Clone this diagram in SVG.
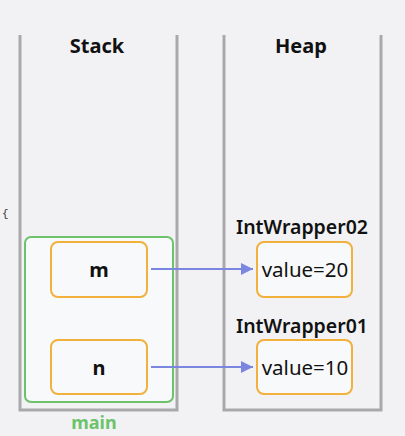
<svg xmlns="http://www.w3.org/2000/svg" width="405" height="436" viewBox="0 0 405 436">
<defs>
<style>
.wall{fill:none;stroke:#a9a9ab;stroke-width:3}
.var{fill:#f8f9fb;stroke:#f2b03c;stroke-width:2}
.t{font-family:"Noto Sans","Liberation Sans",sans-serif;fill:#111;text-anchor:middle}
.conn{stroke:#7b86e0;stroke-width:2;fill:none}
</style>
<marker id="ah" viewBox="0 0 10 10" refX="10" refY="5" markerWidth="6" markerHeight="6" orient="auto" markerUnits="strokeWidth">
<path d="M0,0 L10,5 L0,10 z" fill="#7b86e0"/>
</marker>
</defs>
<rect width="405" height="436" fill="#f2f2f4"/>
<text x="2" y="217" font-family="Liberation Mono,monospace" font-size="11" fill="#333">{</text>
<g id="stack">
<path class="wall" d="M20,35 V410 H177 V35"/>
<text class="t" x="97" y="53" font-size="20" font-weight="bold">Stack</text>
</g>
<g id="heap">
<path class="wall" d="M224,35 V410 H381 V35"/>
<text class="t" x="301" y="53" font-size="20" font-weight="bold">Heap</text>
</g>
<g id="main">
<rect x="25" y="237" width="148" height="165" rx="6" fill="#f8f9fb" stroke="#6cc36c" stroke-width="2"/>
<text class="t" x="94" y="429" font-size="18" font-weight="bold" style="fill:#6cc36c">main</text>
</g>
<g id="m">
<rect class="var" x="51" y="242" width="96" height="55" rx="7"/>
<text class="t" x="99" y="277" font-size="20" font-weight="bold">m</text>
</g>
<g id="n">
<rect class="var" x="51" y="340" width="96" height="54" rx="7"/>
<text class="t" x="99" y="375" font-size="20" font-weight="bold">n</text>
</g>
<g id="IntWrapper02">
<text class="t" x="302" y="234" font-size="19.5" font-weight="600">IntWrapper02</text>
<rect class="var" x="257" y="242" width="95" height="55" rx="7"/>
<text class="t" x="305" y="277" font-size="20.5">value=20</text>
</g>
<g id="IntWrapper01">
<text class="t" x="302" y="333" font-size="19.5" font-weight="600">IntWrapper01</text>
<rect class="var" x="257" y="340" width="95" height="54" rx="7"/>
<text class="t" x="305" y="375" font-size="20.5">value=10</text>
</g>
<g id="connectors">
<line class="conn" x1="151" y1="269" x2="253" y2="269" marker-end="url(#ah)"/>
<line class="conn" x1="151" y1="367" x2="253" y2="367" marker-end="url(#ah)"/>
</g>
</svg>
